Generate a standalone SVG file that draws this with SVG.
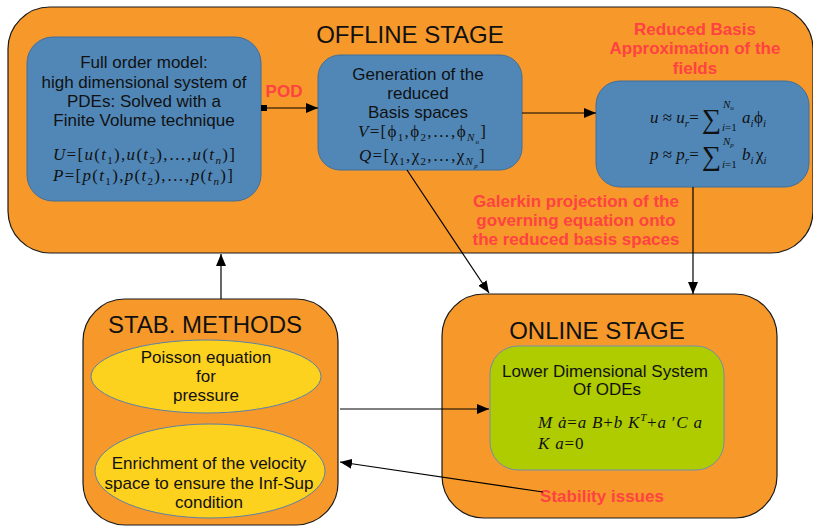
<svg xmlns="http://www.w3.org/2000/svg" width="813" height="528" viewBox="0 0 813 528">
<defs>
<marker id="arr" viewBox="0 0 12 10" refX="12" refY="5" markerWidth="12" markerHeight="10" markerUnits="userSpaceOnUse" orient="auto">
<path d="M0,0 L12,5 L0,10 Z" fill="#000"/>
</marker>
<marker id="sq" viewBox="0 0 6 6" refX="3" refY="3" markerWidth="6" markerHeight="6" markerUnits="userSpaceOnUse" orient="auto">
<rect x="0" y="0" width="6" height="6" fill="#000"/>
</marker>
</defs>
<style>
.stage{fill:#f6992a;stroke:#1a1a1a;stroke-width:1.2}
.blue{fill:#5087b7;stroke:#3f6f9c;stroke-width:1}
.green{fill:#aecc00;stroke:#6f90ad;stroke-width:1}
.yel{fill:#fdd21f;stroke:#5a82a8;stroke-width:1}
.t{font-family:"Liberation Sans",Arial,sans-serif;fill:#111;text-anchor:middle}
.big{font-size:24px}
.n{font-size:17px}
.red{font-family:"Liberation Sans",Arial,sans-serif;font-weight:bold;font-size:17px;fill:#ff4242;text-anchor:middle}
.m{font-family:"Liberation Serif","Times New Roman",serif;font-style:italic;font-size:17px;fill:#111}
.sp{letter-spacing:1.3px}
.up{font-style:normal}
.s{font-size:11px}
.ss{font-size:7px}
.sum{font-family:"Liberation Serif","Times New Roman",serif;font-size:27px;fill:#111}
.con{fill:none;stroke:#000;stroke-width:1.2}
</style>

<g id="offline">
<rect class="stage" x="8" y="7" width="805" height="246" rx="42"/>
<text class="t big" x="410" y="43">OFFLINE STAGE</text>
</g>

<g id="full-order">
<rect class="blue" x="27" y="37" width="234" height="164" rx="26"/>
<text class="t n" x="144" y="68">Full order model:</text>
<text class="t n" x="144" y="88">high dimensional system of</text>
<text class="t n" x="144" y="107">PDEs: Solved with a</text>
<text class="t n" x="144" y="126">Finite Volume technique</text>
<text class="m sp" x="53" y="160">U<tspan class="up">=[</tspan>u<tspan class="up">(</tspan>t<tspan class="s up" dy="4">1</tspan><tspan class="up" dy="-4">),</tspan>u<tspan class="up">(</tspan>t<tspan class="s up" dy="4">2</tspan><tspan class="up" dy="-4">),…,</tspan>u<tspan class="up">(</tspan>t<tspan class="s" dy="4">n</tspan><tspan class="up" dy="-4">)]</tspan></text>
<text class="m sp" x="53" y="181">P<tspan class="up">=[</tspan>p<tspan class="up">(</tspan>t<tspan class="s up" dy="4">1</tspan><tspan class="up" dy="-4">),</tspan>p<tspan class="up">(</tspan>t<tspan class="s up" dy="4">2</tspan><tspan class="up" dy="-4">),…,</tspan>p<tspan class="up">(</tspan>t<tspan class="s" dy="4">n</tspan><tspan class="up" dy="-4">)]</tspan></text>
</g>

<g id="pod-label">
<text class="red" x="284" y="97">POD</text>
</g>

<g id="generation">
<rect class="blue" x="318" y="55" width="204" height="115" rx="22"/>
<text class="t n" x="418" y="80">Generation of the</text>
<text class="t n" x="418" y="99">reduced</text>
<text class="t n" x="418" y="118">Basis spaces</text>
<text class="m sp" x="358" y="137">V<tspan class="up">=[ϕ</tspan><tspan class="s up" dy="4">1</tspan><tspan class="up" dy="-4">,ϕ</tspan><tspan class="s up" dy="4">2</tspan><tspan class="up" dy="-4">,…,ϕ</tspan><tspan class="s" dy="4">N</tspan><tspan class="ss" dy="3">u</tspan><tspan class="up" dy="-7">]</tspan></text>
<text class="m sp" x="359" y="161">Q<tspan class="up">=[χ</tspan><tspan class="s up" dy="4">1</tspan><tspan class="up" dy="-4">,χ</tspan><tspan class="s up" dy="4">2</tspan><tspan class="up" dy="-4">,…,χ</tspan><tspan class="s" dy="4">N</tspan><tspan class="ss" dy="3">p</tspan><tspan class="up" dy="-7">]</tspan></text>
</g>

<g id="reduced-basis">
<text class="red" x="695" y="35">Reduced Basis</text>
<text class="red" x="695" y="54">Approximation of the</text>
<text class="red" x="695" y="74">fields</text>
<rect class="blue" x="596" y="81" width="213" height="106" rx="24"/>
<text class="m" x="650" y="123">u<tspan class="up"> ≈ </tspan>u<tspan class="s" dy="4">r</tspan><tspan class="up" dy="-4">=</tspan></text>
<text class="sum" x="702" y="128">∑</text>
<text class="m" x="723" y="108"><tspan class="s">N</tspan><tspan class="ss" dy="2">u</tspan></text>
<text class="m s" x="722" y="131">i<tspan class="up">=1</tspan></text>
<text class="m" x="742" y="123">a<tspan class="s" dy="4">i</tspan></text>
<text class="m" x="754" y="123"><tspan class="up">ϕ</tspan><tspan class="s" dy="4">i</tspan></text>
<text class="m" x="650" y="160">p<tspan class="up"> ≈ </tspan>p<tspan class="s" dy="4">r</tspan><tspan class="up" dy="-4">=</tspan></text>
<text class="sum" x="702" y="165">∑</text>
<text class="m" x="723" y="145"><tspan class="s">N</tspan><tspan class="ss" dy="2">p</tspan></text>
<text class="m s" x="722" y="168">i<tspan class="up">=1</tspan></text>
<text class="m" x="742" y="160">b<tspan class="s" dy="4">i</tspan></text>
<text class="m" x="756" y="160"><tspan class="up">χ</tspan><tspan class="s" dy="4">i</tspan></text>
</g>

<g id="galerkin-label">
<text class="red" x="576" y="207">Galerkin projection of the</text>
<text class="red" x="576" y="226">governing equation onto</text>
<text class="red" x="576" y="245">the reduced basis spaces</text>
</g>

<g id="stab-methods">
<rect class="stage" x="83" y="299" width="255" height="226" rx="42"/>
<text class="t big" x="205" y="333">STAB. METHODS</text>
</g>

<g id="poisson">
<ellipse class="yel" cx="206" cy="376.5" rx="115" ry="36.5"/>
<text class="t n" x="206" y="363">Poisson equation</text>
<text class="t n" x="206" y="382">for</text>
<text class="t n" x="206" y="401">pressure</text>
</g>

<g id="enrichment">
<ellipse class="yel" cx="210" cy="471" rx="115" ry="47"/>
<text class="t n" x="209" y="469">Enrichment of the velocity</text>
<text class="t n" x="209" y="489">space to ensure the Inf-Sup</text>
<text class="t n" x="209" y="508">condition</text>
</g>

<g id="online">
<rect class="stage" x="442" y="294" width="335" height="224" rx="42"/>
<text class="t big" x="597" y="339">ONLINE STAGE</text>
</g>

<g id="lower-dim">
<rect class="green" x="490" y="346" width="234" height="124" rx="28"/>
<text class="t n" x="605" y="377">Lower Dimensional System</text>
<text class="t n" x="607" y="395">Of ODEs</text>
<text class="m" x="538" y="428" style="letter-spacing:0.8px">M ȧ<tspan class="up">=</tspan>a B<tspan class="up">+</tspan>b K<tspan class="s" dy="-7">T</tspan><tspan class="up" dy="7">+</tspan>a<tspan class="up"> ′</tspan>C a</text>
<text class="m" x="538" y="449" style="letter-spacing:0.8px">K a<tspan class="up">=0</tspan></text>
</g>

<g id="stability-label">
<text class="red" x="602" y="502">Stability issues</text>
</g>

<g id="connectors">
<line class="con" x1="264" y1="108" x2="318" y2="108" marker-start="url(#sq)" marker-end="url(#arr)"/>
<line class="con" x1="522" y1="113" x2="596" y2="113" marker-end="url(#arr)"/>
<line class="con" x1="693" y1="187" x2="693" y2="294" stroke="#555" marker-end="url(#arr)"/>
<line class="con" x1="407" y1="170" x2="489" y2="293" marker-end="url(#arr)"/>
<line class="con" x1="221" y1="299" x2="221" y2="254" marker-end="url(#arr)"/>
<line class="con" x1="340" y1="409" x2="489" y2="409" stroke="#444" marker-end="url(#arr)"/>
<line class="con" x1="543" y1="492" x2="340" y2="462" marker-end="url(#arr)"/>
</g>
</svg>
